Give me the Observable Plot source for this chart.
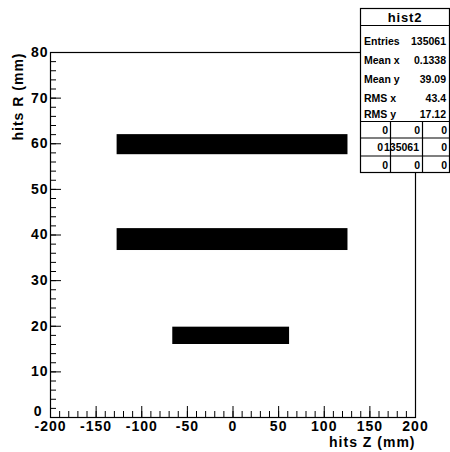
<!DOCTYPE html>
<html>
<head>
<meta charset="utf-8">
<script src="https://cdn.jsdelivr.net/npm/d3@7"></script>
<script src="https://cdn.jsdelivr.net/npm/@observablehq/plot@0.6"></script>
<style>
  body { margin: 0; background: #fff; }
  #chart { position: relative; width: 450px; height: 452px; }
  #chart svg text { font-family: "Liberation Sans", Arial, Helvetica, sans-serif; font-weight: bold; }
  .axistext text { letter-spacing: 1px; }
</style>
</head>
<body>
<div id="chart"></div>
<script>
// ---- data ----
const histName = "hist2";
const xLabel = "hits Z (mm)";
const yLabel = "hits R (mm)";
const xDomain = [-200, 200];
const yDomain = [0, 80];
const xMajorTicks = [-200, -150, -100, -50, 0, 50, 100, 150, 200];
const xMinorTicks = d3.range(-200, 201, 10);
const yMajorTicks = [0, 10, 20, 30, 40, 50, 60, 70, 80];
const yMinorTicks = d3.range(0, 81, 2);

// hit clusters (detector layers): z extent and R extent
const layerZMin = [-127, -127, -66];
const layerZMax = [126, 126, 62];
const layerRMin = [57.6, 36.6, 16.0];
const layerRMax = [62.0, 41.4, 19.8];

// stats box
const statLabels = ["Entries", "Mean x", "Mean y", "RMS x", "RMS y"];
const statValues = ["135061", "0.1338", "39.09", "43.4", "17.12"];
const overflowGrid = [["0", "0", "0"], ["0", "135061", "0"], ["0", "0", "0"]];

const layers = layerZMin.map((z, i) => ({
  zMin: z, zMax: layerZMax[i], rMin: layerRMin[i], rMax: layerRMax[i]
}));

const font = "Liberation Sans, Arial, Helvetica, sans-serif";
const W = 450, H = 452, mL = 50, mR = 35, mT = 52, mB = 35;
const frameW = W - mL - mR, frameH = H - mT - mB;
const fmt = d => String(d);
const minorLen = 6, majorLen = 11;

const plot = Plot.plot({
  width: W,
  height: H,
  marginLeft: mL,
  marginRight: mR,
  marginTop: mT,
  marginBottom: mB,
  style: { background: "#fff", fontFamily: font },
  x: { domain: xDomain, axis: null },
  y: { domain: yDomain, axis: null },
  marks: [
    Plot.rect(layers, { x1: "zMin", x2: "zMax", y1: "rMin", y2: "rMax", fill: "black" }),
    // inward ticks: rules spanning the frame, inset so only a short stub at the axis remains
    Plot.ruleX(xMinorTicks, { x: d => d, insetTop: frameH - minorLen, stroke: "black" }),
    Plot.ruleX(xMajorTicks, { x: d => d, insetTop: frameH - majorLen, stroke: "black" }),
    Plot.ruleY(yMinorTicks, { y: d => d, insetRight: frameW - minorLen, stroke: "black" }),
    Plot.ruleY(yMajorTicks, { y: d => d, insetRight: frameW - majorLen, stroke: "black" }),
    Plot.frame({ stroke: "black", strokeWidth: 1.2 }),
    // tick labels
    Plot.axisX(xMajorTicks, { tickSize: 0, tickPadding: 4, tickFormat: fmt, fontSize: 14, fontWeight: "bold", fill: "black", label: null, className: "axistext" }),
    Plot.axisY(yMajorTicks.filter(d => d !== 0), { tickSize: 0, tickPadding: 2, tickFormat: fmt, fontSize: 14, fontWeight: "bold", fill: "black", label: null, className: "axistext" }),
    Plot.axisY(yMajorTicks.filter(d => d === 0), { tickSize: 0, tickPadding: 8, dy: -6, tickFormat: fmt, fontSize: 14, fontWeight: "bold", fill: "black", label: null, className: "axistext" }),
    // axis titles
    Plot.text([xLabel], { text: d => d, frameAnchor: "bottom-right", textAnchor: "end", lineAnchor: "middle", dy: 25, fontSize: 14, fontWeight: "bold", fill: "black", className: "axistext" }),
    Plot.text([yLabel], { text: d => d, frameAnchor: "top-left", rotate: -90, textAnchor: "end", lineAnchor: "middle", dx: -32, fontSize: 14, fontWeight: "bold", fill: "black", className: "axistext" })
  ]
});

document.getElementById("chart").appendChild(plot);

// ---- stats box (annotation) ----
const svg = d3.select(plot);
const g = svg.append("g").attr("font-family", font).attr("font-weight", "bold").attr("fill", "black")
  .attr("text-anchor", "start");
const bx0 = 360.5, bx1 = 449.5, by0 = 8.5, by1 = 172.5;
g.append("rect").attr("x", bx0).attr("y", by0).attr("width", bx1 - bx0).attr("height", by1 - by0)
  .attr("fill", "white").attr("stroke", "black").attr("stroke-width", 1.2);
const hLines = [25.5, 121.5, 138, 156];
hLines.forEach(y => g.append("line").attr("x1", bx0).attr("x2", bx1).attr("y1", y).attr("y2", y).attr("stroke", "black").attr("stroke-width", 1.2));
[390.5, 422.5].forEach(x => g.append("line").attr("x1", x).attr("x2", x).attr("y1", 121.5).attr("y2", by1).attr("stroke", "black").attr("stroke-width", 1.2));
g.append("text").attr("x", 405).attr("y", 22).attr("text-anchor", "middle").attr("font-size", 13)
  .style("letter-spacing", "0.8px").text(histName);
const statBase = [45, 64, 83, 101.5, 117.5];
statLabels.forEach((s, i) => {
  g.append("text").attr("x", 364).attr("y", statBase[i]).attr("font-size", 10.5).attr("text-anchor", "start").text(s);
  g.append("text").attr("x", 446).attr("y", statBase[i]).attr("font-size", 10.5).attr("text-anchor", "end").text(statValues[i]);
});
const gridBase = [133.5, 151, 168.5];
const gridRight = [[388, 420, 447], [383, 419, 447], [388, 420, 447]];
overflowGrid.forEach((row, r) => row.forEach((v, c) => {
  g.append("text").attr("x", gridRight[r][c]).attr("y", gridBase[r]).attr("font-size", 10.5)
    .attr("text-anchor", "end").text(v);
}));
</script>
</body>
</html>
